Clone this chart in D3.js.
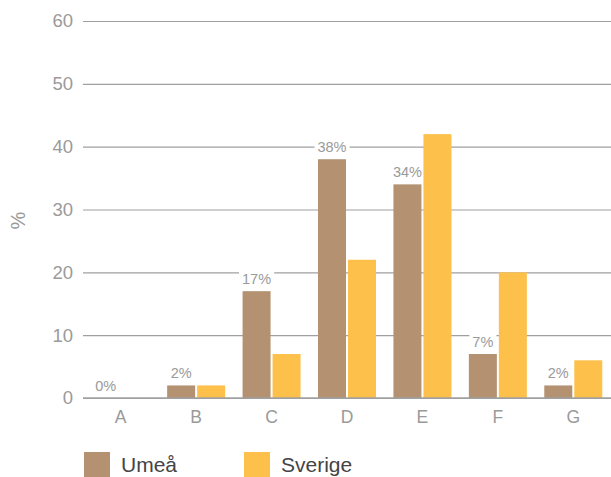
<!DOCTYPE html>
<html>
<head>
<meta charset="utf-8">
<script src="https://cdn.jsdelivr.net/npm/d3@7"></script>
<style>
  html, body { margin: 0; padding: 0; background: #fff; }
  svg { display: block; font-family: "Liberation Sans", Arial, sans-serif; }
</style>
</head>
<body>
<svg id="chart" width="611" height="477"></svg>
<script>
// Categories and series
const categories = ["A", "B", "C", "D", "E", "F", "G"];
const umea = [0, 2, 17, 38, 34, 7, 2];
const sverige = [0, 2, 7, 22, 42, 20, 6];
const seriesNames = ["Umeå", "Sverige"];
const seriesColors = ["#b39171", "#fdc14b"];
const yTicks = [0, 10, 20, 30, 40, 50, 60];

const svg = d3.select("#chart");
const margin = { left: 83, right: 0, top: 21, bottom: 79 };
const W = 611, H = 477;

const x = d3.scaleBand().domain(categories).range([margin.left, W - margin.right]).padding(0);
const y = d3.scaleLinear().domain([0, 60]).range([H - margin.bottom, margin.top]);
const barW = 28, gap = 2;

// Gridlines and y tick labels
const yAxis = svg.append("g")
  .attr("transform", `translate(${margin.left},0)`)
  .call(d3.axisLeft(y).tickValues(yTicks).tickSize(0).tickPadding(10).tickFormat(d3.format("d")));
yAxis.select(".domain").remove();
yAxis.selectAll(".tick line")
  .attr("x2", W - margin.left)
  .attr("stroke", "#a0a0a0")
  .attr("stroke-width", 1.2);
yAxis.selectAll(".tick text")
  .attr("fill", "#9a9a9a")
  .attr("font-size", 18.5)
  .attr("font-family", "Liberation Sans, Arial, sans-serif");

// Y axis title
svg.append("text")
  .attr("transform", `translate(25,${(y(30) + 11)}) rotate(-90)`)
  .attr("text-anchor", "middle")
  .attr("fill", "#9a9a9a")
  .attr("font-size", 20)
  .text("%");

// One group per category, centred in its band
const groups = svg.append("g").selectAll("g")
  .data(categories)
  .join("g")
  .attr("transform", d => `translate(${x(d) + x.bandwidth() / 2},0)`);

// Umeå bars
groups.append("rect")
  .attr("x", -barW - gap / 2)
  .attr("width", barW)
  .attr("y", (d, i) => y(umea[i]))
  .attr("height", (d, i) => y(0) - y(umea[i]))
  .attr("fill", seriesColors[0]);

// Value labels on the Umeå bars, with a white backing that breaks the gridlines
const labels = groups.append("g")
  .attr("transform", (d, i) => `translate(${-barW / 2 - gap / 2},${y(umea[i]) - 7})`);
labels.append("text")
  .attr("text-anchor", "middle")
  .attr("fill", "#9a9a9a")
  .attr("font-size", 14.5)
  .text((d, i) => umea[i] + "%");
labels.each(function() {
  const g = d3.select(this);
  const bb = g.select("text").node().getBBox();
  g.insert("rect", "text")
    .attr("x", bb.x - 3).attr("y", bb.y)
    .attr("width", bb.width + 6).attr("height", bb.height)
    .attr("fill", "#fff");
});

// Sverige bars, drawn above the label backing
groups.append("rect")
  .attr("x", gap / 2)
  .attr("width", barW)
  .attr("y", (d, i) => y(sverige[i]))
  .attr("height", (d, i) => y(0) - y(sverige[i]))
  .attr("fill", seriesColors[1]);

// Baseline
svg.append("line")
  .attr("x1", margin.left).attr("x2", W)
  .attr("y1", y(0)).attr("y2", y(0))
  .attr("stroke", "#a0a0a0").attr("stroke-width", 1.5);

// Category labels
svg.append("g").selectAll("text")
  .data(categories)
  .join("text")
  .attr("x", d => x(d) + x.bandwidth() / 2)
  .attr("y", y(0) + 25)
  .attr("text-anchor", "middle")
  .attr("fill", "#9a9a9a")
  .attr("font-size", 17.5)
  .text(d => d);

// Legend
const legend = svg.append("g").attr("transform", "translate(84,452)");
const items = legend.selectAll("g")
  .data(seriesNames)
  .join("g")
  .attr("transform", (d, i) => `translate(${i * 160},0)`);
items.append("rect")
  .attr("width", 26).attr("height", 26)
  .attr("fill", (d, i) => seriesColors[i]);
items.append("text")
  .attr("x", 37).attr("y", 20)
  .attr("fill", "#444")
  .attr("font-size", 21)
  .text(d => d);
</script>
</body>
</html>
